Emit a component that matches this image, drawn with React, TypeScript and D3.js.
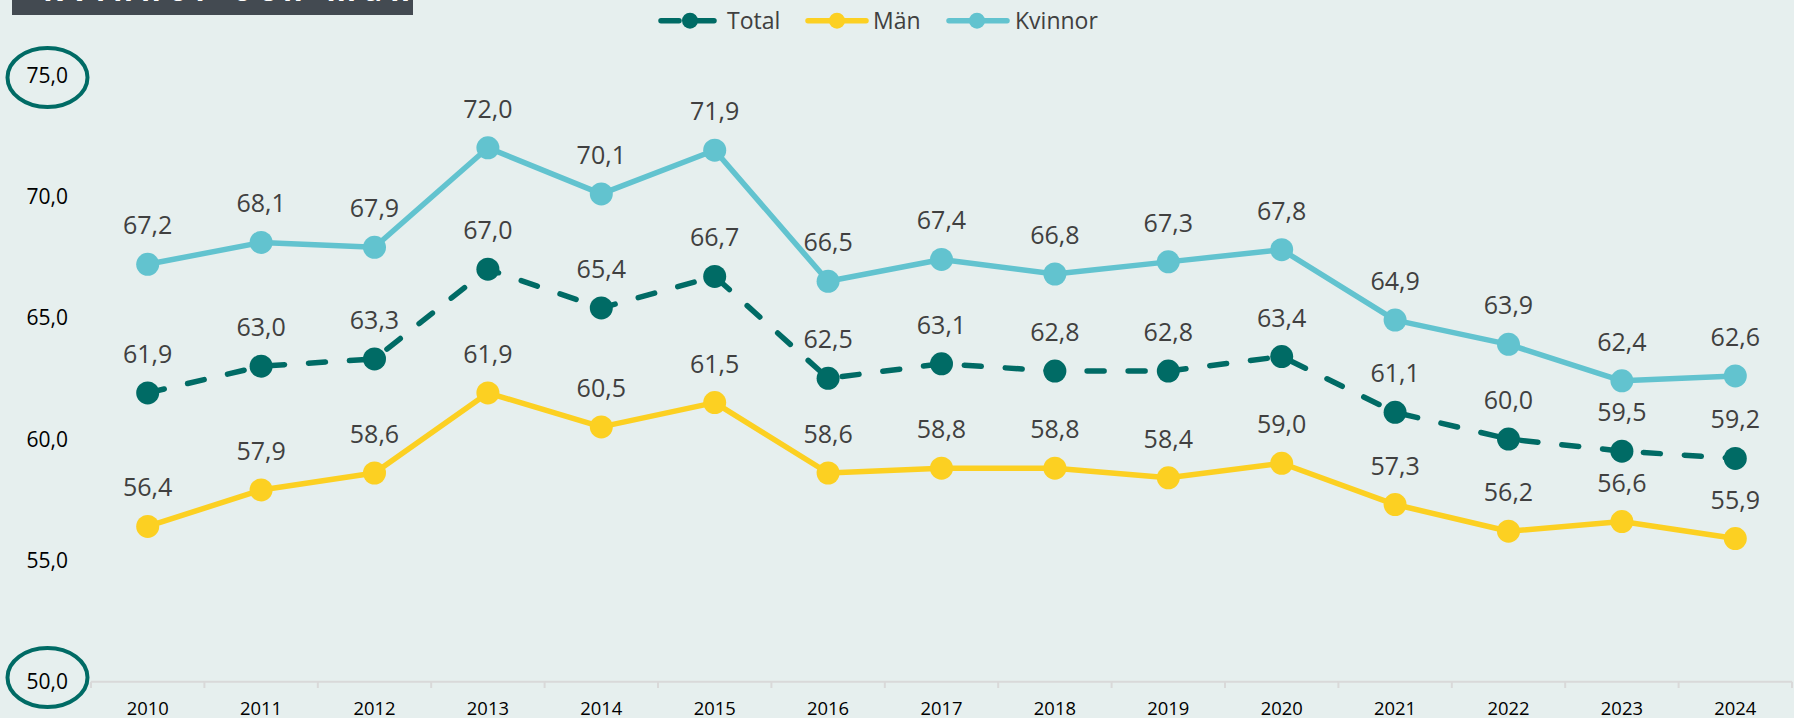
import React from "react";
import * as d3 from "d3";

const years = ["2010","2011","2012","2013","2014","2015","2016","2017","2018","2019","2020","2021","2022","2023","2024"];
const totalValues = [61.9, 63.0, 63.3, 67.0, 65.4, 66.7, 62.5, 63.1, 62.8, 62.8, 63.4, 61.1, 60.0, 59.5, 59.2];
const manValues = [56.4, 57.9, 58.6, 61.9, 60.5, 61.5, 58.6, 58.8, 58.8, 58.4, 59.0, 57.3, 56.2, 56.6, 55.9];
const kvinnorValues = [67.2, 68.1, 67.9, 72.0, 70.1, 71.9, 66.5, 67.4, 66.8, 67.3, 67.8, 64.9, 63.9, 62.4, 62.6];
const yTicks = [50, 55, 60, 65, 70, 75];
const seriesNames = ["Total", "Män", "Kvinnor"];
const titleText = "Kvinnor och män";

const W = 1794, H = 718;
const FONT = "'Open Sans', 'Noto Sans', sans-serif";
const fmt = (v: number) => v.toFixed(1).replace(".", ",");

export default function App() {
  const x = d3.scaleBand<string>().domain(years).range([91, 1792]);
  const y = d3.scaleLinear().domain([50, 75]).range([681.7, 75]);
  const cx = (i: number) => (x(years[i]) as number) + x.bandwidth() / 2;
  const line = d3.line<number>().x((_, i) => cx(i)).y((d) => y(d));

  const series = [
    { name: seriesNames[0], values: totalValues, color: "#006b65", dash: "17 24" },
    { name: seriesNames[1], values: manValues, color: "#fcd022", dash: undefined },
    { name: seriesNames[2], values: kvinnorValues, color: "#62c3cf", dash: undefined },
  ];
  const legend = [
    { x0: 661, x1: 714, m: 690, tx: 727 },
    { x0: 808, x1: 866, m: 837, tx: 873 },
    { x0: 949, x1: 1007, m: 977, tx: 1015 },
  ];
  const boundaries = years.map((yr) => x(yr) as number).concat([1792]);

  return (
    <svg width={W} height={H} style={{ position: "absolute", left: 0, top: 0, background: "#e6efee" }} fontFamily={FONT}>
      <rect x={0} y={0} width={W} height={H} fill="#e6efee" />
      {/* title box (cut off) */}
      <defs>
        <clipPath id="titleclip"><rect x={12} y={0} width={401} height={15} /></clipPath>
      </defs>
      <rect x={12} y={0} width={401} height={15} fill="#434a51" />
      <text x={43} y={1.2} fill="#ffffff" fontSize={30} fontWeight="bold" clipPath="url(#titleclip)"
        textLength={367} lengthAdjust="spacing">{titleText}</text>

      {/* x axis */}
      <line x1={91} x2={1792} y1={681.7} y2={681.7} stroke="#d9d9d9" strokeWidth={2} />
      {boundaries.map((b, i) => (
        <line key={"t" + i} x1={b} x2={b} y1={681.7} y2={688} stroke="#d9d9d9" strokeWidth={2} />
      ))}
      {years.map((yr, i) => (
        <text key={yr} x={cx(i)} y={715} textAnchor="middle" fontSize={18.4} fill="#000">{yr}</text>
      ))}
      {/* y labels */}
      {yTicks.map((t) => (
        <text key={t} x={68} y={y(t)} dy="0.36em" textAnchor="end" fontSize={21} fill="#000">{fmt(t)}</text>
      ))}
      <ellipse cx={47.5} cy={77.5} rx={40} ry={29.5} fill="none" stroke="#006b65" strokeWidth={4} />
      <ellipse cx={47.5} cy={677.5} rx={40} ry={29.5} fill="none" stroke="#006b65" strokeWidth={4} />

      {/* lines */}
      {series.map((s) => (
        <g key={s.name}>
          <path d={line(s.values) as string} fill="none" stroke={s.color} strokeWidth={5.5}
            strokeDasharray={s.dash} strokeLinecap="round" strokeLinejoin="round" />
          {s.values.map((v, i) => (
            <circle key={i} cx={cx(i)} cy={y(v)} r={11.5} fill={s.color} />
          ))}
        </g>
      ))}
      {/* data labels */}
      {series.map((s) => (
        <g key={"l" + s.name}>
          {s.values.map((v, i) => (
            <text key={i} x={cx(i)} y={y(v) - 30} textAnchor="middle" fontSize={25} fill="#404040">{fmt(v)}</text>
          ))}
        </g>
      ))}

      {/* legend */}
      {series.map((s, i) => (
        <g key={"lg" + s.name}>
          {s.dash ? (
            <>
              <line x1={legend[i].x0} x2={legend[i].x0 + 18} y1={20.7} y2={20.7} stroke={s.color} strokeWidth={5.5} strokeLinecap="round" />
              <line x1={legend[i].x1 - 16} x2={legend[i].x1} y1={20.7} y2={20.7} stroke={s.color} strokeWidth={5.5} strokeLinecap="round" />
            </>
          ) : (
            <line x1={legend[i].x0} x2={legend[i].x1} y1={20.7} y2={20.7} stroke={s.color} strokeWidth={5.5} strokeLinecap="round" />
          )}
          <circle cx={legend[i].m} cy={20.7} r={8} fill={s.color} />
          <text x={legend[i].tx} y={28.5} fontSize={23} fill="#404040">{s.name}</text>
        </g>
      ))}
    </svg>
  );
}
